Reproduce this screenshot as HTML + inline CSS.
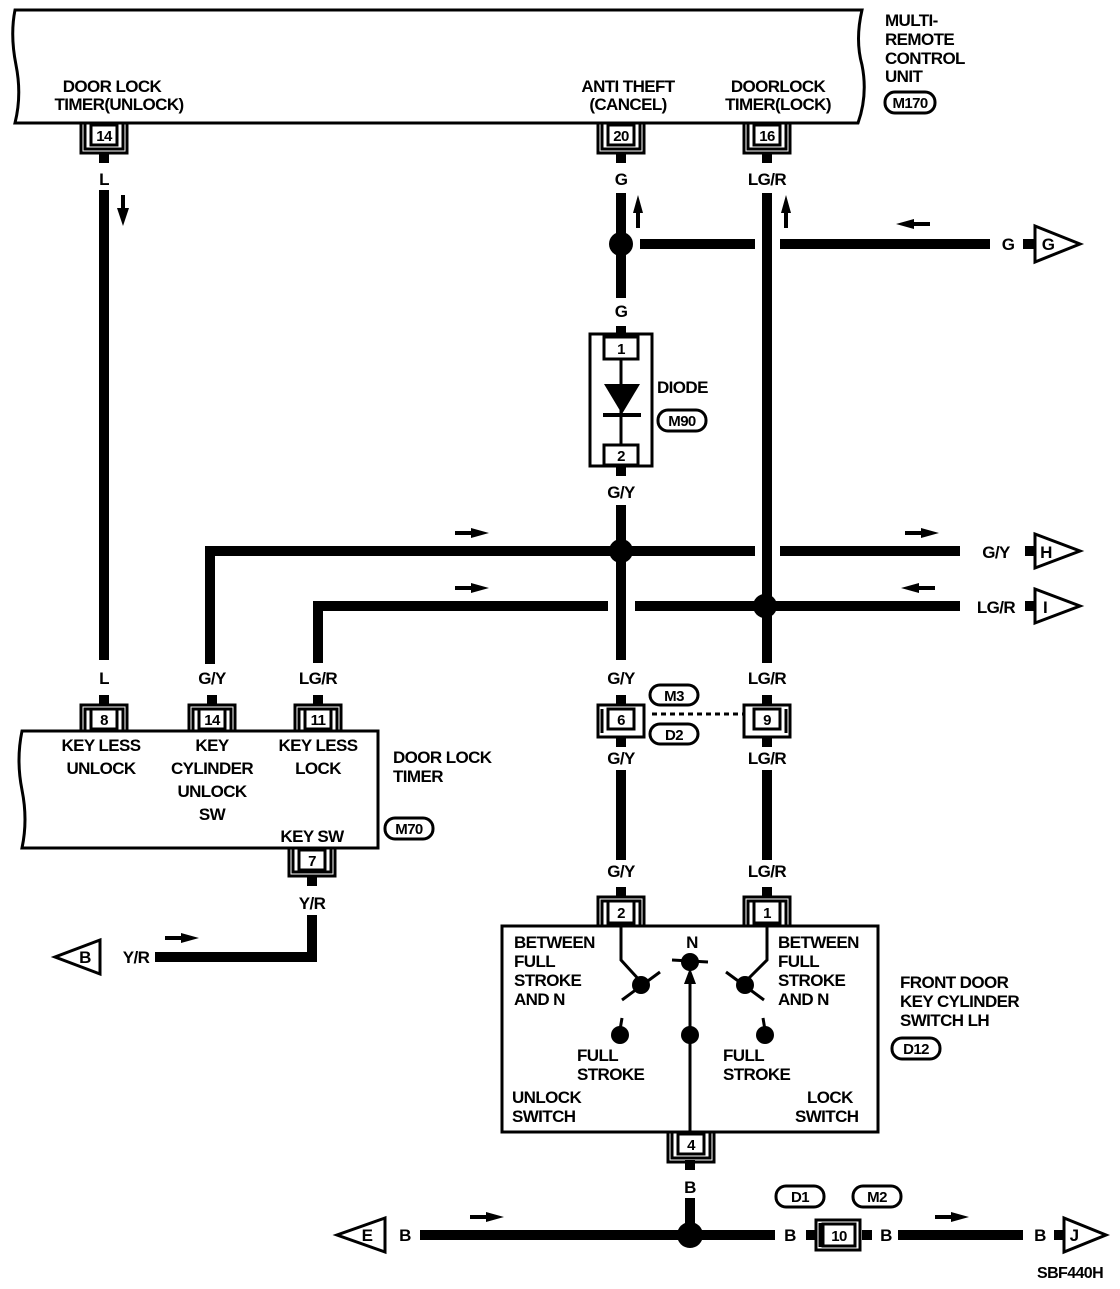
<!DOCTYPE html>
<html><head><meta charset="utf-8"><style>
body{margin:0;background:#fff}
text{font-family:"Liberation Sans",sans-serif;font-weight:bold;font-size:17px;fill:#000;letter-spacing:-0.6px}
.c{text-anchor:middle}
.n{font-size:15px;text-anchor:middle}
</style></head><body>
<svg width="1120" height="1284" viewBox="0 0 1120 1284" xmlns="http://www.w3.org/2000/svg">
<g fill="none" stroke="#000" stroke-width="3">
<path d="M15 10 H862 Q855 40 862 65 Q868 95 858 123 H15 Q22 95 16 65 Q10 35 15 10Z"/>
<path d="M22 731 H378 V848 H22 Q28 820 22 790 Q16 760 22 731Z"/>
<rect x="502" y="926" width="376" height="206"/>
<rect x="590" y="334" width="62" height="132"/>
</g>
<g fill="#000">
<rect x="99" y="190" width="10" height="470"/>
<rect x="616" y="193" width="10" height="105"/>
<rect x="762" y="193" width="10" height="470"/>
<rect x="640" y="239" width="115" height="10"/>
<rect x="780" y="239" width="210" height="10"/>
<rect x="616" y="505" width="10" height="155"/>
<rect x="205" y="546" width="550" height="10"/>
<rect x="780" y="546" width="180" height="10"/>
<rect x="205" y="546" width="10" height="118"/>
<rect x="313" y="601" width="295" height="10"/>
<rect x="635" y="601" width="325" height="10"/>
<rect x="313" y="601" width="10" height="62"/>
<rect x="616" y="770" width="10" height="90"/>
<rect x="762" y="770" width="10" height="90"/>
<rect x="307" y="915" width="10" height="47"/>
<rect x="155" y="952" width="162" height="10"/>
<rect x="685" y="1198" width="10" height="25"/>
<rect x="420" y="1230" width="355" height="10"/>
<rect x="898" y="1230" width="125" height="10"/>
<circle cx="621" cy="244" r="12"/>
<circle cx="621" cy="551" r="12"/>
<circle cx="765" cy="606" r="12"/>
<circle cx="690" cy="1235" r="13"/>
<rect x="99" y="153" width="10" height="10"/><rect x="616" y="153" width="10" height="10"/><rect x="762" y="153" width="10" height="10"/>
<rect x="616" y="326" width="10" height="10"/><rect x="616" y="466" width="10" height="10"/>
<rect x="99" y="695" width="10" height="10"/><rect x="207" y="695" width="10" height="10"/><rect x="313" y="695" width="10" height="10"/>
<rect x="616" y="695" width="10" height="10"/><rect x="762" y="695" width="10" height="10"/>
<rect x="616" y="737" width="10" height="10"/><rect x="762" y="737" width="10" height="10"/>
<rect x="307" y="876" width="10" height="10"/>
<rect x="616" y="887" width="10" height="10"/><rect x="762" y="887" width="10" height="10"/>
<rect x="685" y="1160" width="10" height="10"/>
<rect x="806" y="1230" width="10" height="10"/><rect x="862" y="1230" width="10" height="10"/>
<rect x="1023" y="239" width="12" height="10"/>
<rect x="1025" y="546" width="10" height="10"/>
<rect x="1025" y="601" width="10" height="10"/>
<rect x="1054" y="1230" width="10" height="10"/>
<path d="M121 195h4v13h4l-6 18-6-18h4z"/>
<path d="M636 228v-15h-3l5-18 5 18h-3v15z"/>
<path d="M784 228v-15h-3l5-18 5 18h-3v15z"/>
<path d="M930 222h-16v-3l-18 5 18 5v-3h16z"/>
<path d="M455 531h16v-3l18 5-18 5v-3h-16z"/>
<path d="M455 586h16v-3l18 5-18 5v-3h-16z"/>
<path d="M905 531h16v-3l18 5-18 5v-3h-16z"/>
<path d="M935 586h-16v-3l-18 5 18 5v-3h16z"/>
<path d="M165 936h16v-3l18 5-18 5v-3h-16z"/>
<path d="M470 1215h16v-3l18 5-18 5v-3h-16z"/>
<path d="M935 1215h16v-3l18 5-18 5v-3h-16z"/>
<path d="M604 384h36l-18 30z"/><rect x="603" y="413" width="38" height="4"/>
</g>
<g fill="none" stroke="#000" stroke-width="3">
<line x1="621" y1="360" x2="621" y2="445"/>
<path d="M81 123V153H127V123 M85 123V149H123V123"/><rect x="91" y="125" width="26" height="20"/>
<path d="M598 123V153H644V123 M602 123V149H640V123"/><rect x="608" y="125" width="26" height="20"/>
<path d="M744 123V153H790V123 M748 123V149H786V123"/><rect x="754" y="125" width="26" height="20"/>
<path d="M604 337h34v22h-34z M604 445h34v20h-34z"/>
<path d="M81 731V705H127V731 M85 731V709H123V731"/><rect x="91" y="709" width="26" height="20"/>
<path d="M189 731V705H235V731 M193 731V709H231V731"/><rect x="199" y="709" width="26" height="20"/>
<path d="M295 731V705H341V731 M299 731V709H337V731"/><rect x="305" y="709" width="26" height="20"/>
<path d="M289 848V876H335V848 M293 848V872H331V848"/><rect x="299" y="850" width="26" height="20"/>
<path d="M598 705H644V737H598Z M602 709V733"/><rect x="608" y="709" width="26" height="20"/>
<path d="M744 705H790V737H744Z M786 709V733"/><rect x="754" y="709" width="26" height="20"/>
<line x1="652" y1="714" x2="744" y2="714" stroke-dasharray="5 4"/>
<path d="M598 926V897H644V926 M602 926V901H640V926"/><rect x="608" y="901" width="26" height="22"/>
<path d="M744 926V897H790V926 M748 926V901H786V926"/><rect x="754" y="901" width="26" height="22"/>
<path d="M668 1132V1162H714V1132 M672 1132V1158H710V1132"/><rect x="678" y="1134" width="26" height="20"/>
<path d="M816 1220H860V1250H816Z M820 1223V1247"/><rect x="823" y="1224" width="32" height="22"/>
<path d="M621 926V960L642 983 M660 972L622 1000"/>
<path d="M767 926V960L744 983 M726 972L764 1000"/>
<path d="M690 1132V972 M672 960L708 962"/>
<path d="M622 1018l-2 12 M763 1018l2 12"/>
<rect x="885" y="92" width="50" height="21" rx="10"/>
<rect x="658" y="410" width="48" height="21" rx="10"/>
<rect x="650" y="685" width="48" height="20" rx="10"/>
<rect x="650" y="724" width="48" height="20" rx="10"/>
<rect x="385" y="818" width="48" height="21" rx="10"/>
<rect x="892" y="1038" width="48" height="21" rx="10"/>
<rect x="776" y="1186" width="48" height="21" rx="10"/>
<rect x="853" y="1186" width="48" height="21" rx="10"/>
<path d="M1035 226L1080 244L1035 262Z"/>
<path d="M1035 534L1080 551L1035 568Z"/>
<path d="M1035 589L1080 606L1035 623Z"/>
<path d="M100 940L55 957L100 974Z"/>
<path d="M385 1218L337 1235L385 1252Z"/>
<path d="M1064 1218L1106 1235L1064 1252Z"/>
</g>
<g fill="#000">
<circle cx="641" cy="985" r="9"/><circle cx="745" cy="985" r="9"/>
<circle cx="690" cy="962" r="9"/><circle cx="690" cy="1035" r="9"/>
<circle cx="620" cy="1035" r="9"/><circle cx="765" cy="1035" r="9"/>
<path d="M690 968l-6 16h12z"/>
</g>
<text class="c" x="112" y="92">DOOR LOCK</text>
<text class="c" x="119" y="110">TIMER(UNLOCK)</text>
<text class="c" x="628" y="92">ANTI THEFT</text>
<text class="c" x="628" y="110">(CANCEL)</text>
<text class="c" x="778" y="92">DOORLOCK</text>
<text class="c" x="778" y="110">TIMER(LOCK)</text>
<text x="885" y="26">MULTI-</text><text x="885" y="45">REMOTE</text><text x="885" y="64">CONTROL</text><text x="885" y="82">UNIT</text>
<text class="n" x="910" y="108">M170</text>
<text class="n" x="104" y="141">14</text><text class="n" x="621" y="141">20</text><text class="n" x="767" y="141">16</text>
<text class="c" x="104" y="185">L</text><text class="c" x="621" y="185">G</text><text class="c" x="767" y="185">LG/R</text>
<text class="c" x="1008" y="250">G</text><text class="c" x="1048" y="250">G</text>
<text class="c" x="621" y="317">G</text>
<text class="n" x="621" y="354">1</text><text class="n" x="621" y="461">2</text>
<text x="657" y="393">DIODE</text><text class="n" x="682" y="426">M90</text>
<text class="c" x="621" y="498">G/Y</text>
<text class="c" x="996" y="558">G/Y</text><text class="c" x="1046" y="558">H</text>
<text class="c" x="996" y="613">LG/R</text><text class="c" x="1045" y="613">I</text>
<text class="c" x="104" y="684">L</text><text class="c" x="212" y="684">G/Y</text><text class="c" x="318" y="684">LG/R</text>
<text class="c" x="621" y="684">G/Y</text><text class="c" x="767" y="684">LG/R</text>
<text class="n" x="104" y="725">8</text><text class="n" x="212" y="725">14</text><text class="n" x="318" y="725">11</text>
<text class="n" x="621" y="725">6</text><text class="n" x="767" y="725">9</text>
<text class="n" x="674" y="701">M3</text><text class="n" x="674" y="740">D2</text>
<text class="c" x="101" y="751">KEY LESS</text><text class="c" x="101" y="774">UNLOCK</text>
<text class="c" x="212" y="751">KEY</text><text class="c" x="212" y="774">CYLINDER</text><text class="c" x="212" y="797">UNLOCK</text><text class="c" x="212" y="820">SW</text>
<text class="c" x="318" y="751">KEY LESS</text><text class="c" x="318" y="774">LOCK</text>
<text class="c" x="312" y="842">KEY SW</text>
<text x="393" y="763">DOOR LOCK</text><text x="393" y="782">TIMER</text>
<text class="n" x="409" y="834">M70</text>
<text class="c" x="621" y="764">G/Y</text><text class="c" x="767" y="764">LG/R</text>
<text class="n" x="312" y="866">7</text>
<text class="c" x="312" y="909">Y/R</text>
<text class="c" x="85" y="963">B</text><text class="c" x="136" y="963">Y/R</text>
<text class="c" x="621" y="877">G/Y</text><text class="c" x="767" y="877">LG/R</text>
<text class="n" x="621" y="918">2</text><text class="n" x="767" y="918">1</text>
<text x="514" y="948">BETWEEN</text><text x="514" y="967">FULL</text><text x="514" y="986">STROKE</text><text x="514" y="1005">AND N</text>
<text x="778" y="948">BETWEEN</text><text x="778" y="967">FULL</text><text x="778" y="986">STROKE</text><text x="778" y="1005">AND N</text>
<text class="c" x="692" y="948">N</text>
<text x="577" y="1061">FULL</text><text x="577" y="1080">STROKE</text>
<text x="723" y="1061">FULL</text><text x="723" y="1080">STROKE</text>
<text x="512" y="1103">UNLOCK</text><text x="512" y="1122">SWITCH</text>
<text x="807" y="1103">LOCK</text><text x="795" y="1122">SWITCH</text>
<text x="900" y="988">FRONT DOOR</text><text x="900" y="1007">KEY CYLINDER</text><text x="900" y="1026">SWITCH LH</text>
<text class="n" x="916" y="1054">D12</text>
<text class="n" x="691" y="1150">4</text>
<text class="c" x="690" y="1193">B</text>
<text class="n" x="800" y="1202">D1</text><text class="n" x="877" y="1202">M2</text>
<text class="c" x="367" y="1241">E</text><text class="c" x="405" y="1241">B</text>
<text class="c" x="790" y="1241">B</text><text class="n" x="839" y="1241">10</text><text class="c" x="886" y="1241">B</text>
<text class="c" x="1040" y="1241">B</text><text class="c" x="1074" y="1241">J</text>
<text x="1037" y="1278" style="font-size:16px">SBF440H</text>
</svg>
</body></html>
